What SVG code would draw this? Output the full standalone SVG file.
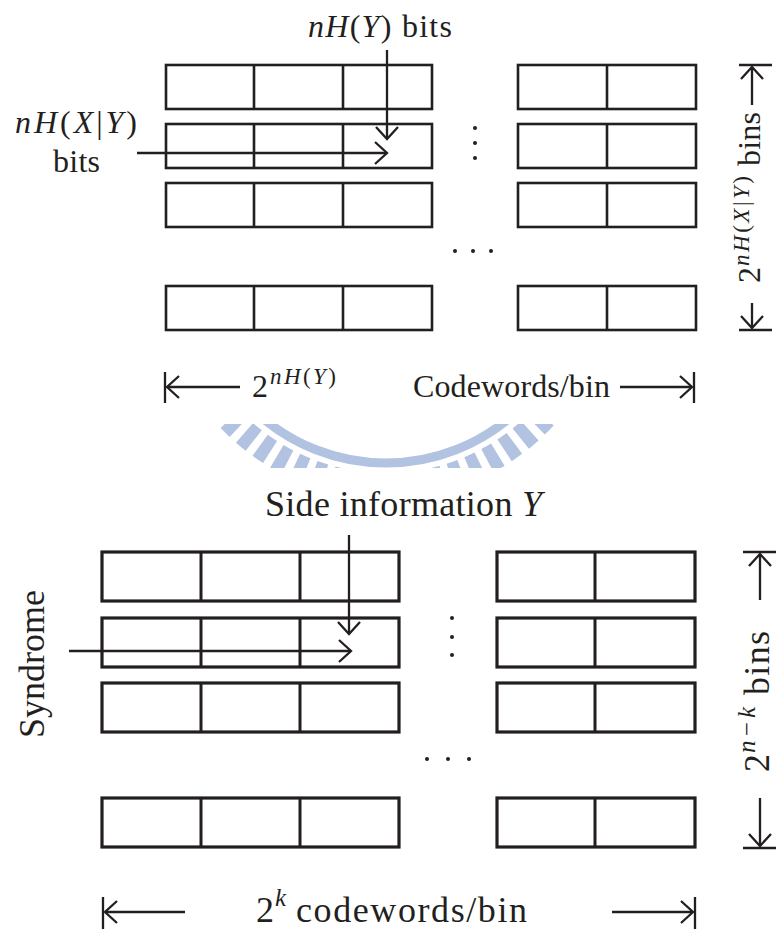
<svg xmlns="http://www.w3.org/2000/svg" width="776" height="929" viewBox="0 0 776 929">
  <style>
    text { font-family: "Liberation Serif", "Times New Roman", serif; fill: #231f20; }
    .t { font-size: 32px; }
    .b { font-size: 36px; }
    .st { font-size: 23px; }
    .sb { font-size: 25px; }
    .it { font-style: italic; }
    .box { fill: #ffffff; stroke: #231f20; stroke-width: 2.6; }
    .boxb { fill: #ffffff; stroke: #231f20; stroke-width: 3.2; }
    .div { stroke: #231f20; stroke-width: 2.6; fill: none; }
    .divb { stroke: #231f20; stroke-width: 3; fill: none; }
    .ln { stroke: #231f20; stroke-width: 2.3; fill: none; }
    .dot { fill: #231f20; }
    .wm { fill: none; stroke: #b2c2e1; }
  </style>
  <defs>
    <marker id="head" markerUnits="userSpaceOnUse" markerWidth="30" markerHeight="30" refX="0" refY="0" viewBox="-15 -15 30 30" orient="auto">
      <path d="M -12 -11 L 0 0 L -12 11" fill="none" stroke="#231f20" stroke-width="2.3"/>
    </marker>
    <clipPath id="wmclip">
      <rect x="200" y="424" width="380" height="44"/>
    </clipPath>
  </defs>

  <rect width="776" height="929" fill="#ffffff"/>

  <!-- faint seal printed behind the page -->
  <g id="seal" clip-path="url(#wmclip)">
    <circle class="wm" cx="386" cy="271" r="192" stroke-width="9"/>
    <circle class="wm" cx="386" cy="271" r="215" stroke-width="26" stroke-dasharray="12 8"/>
  </g>

  <!-- ===== Upper figure: binning with nH(Y) / nH(X|Y) ===== -->
  <g id="top-bins-left">
    <rect class="box" x="166" y="65" width="266" height="44"/>
    <rect class="box" x="166" y="124" width="266" height="44"/>
    <rect class="box" x="166" y="183" width="266" height="44"/>
    <rect class="box" x="166" y="286" width="266" height="44"/>
    <path class="div" d="M254 65V109M343 65V109M254 124V168M343 124V168M254 183V227M343 183V227M254 286V330M343 286V330"/>
  </g>
  <g id="top-bins-right">
    <rect class="box" x="518" y="65" width="178" height="44"/>
    <rect class="box" x="518" y="124" width="178" height="44"/>
    <rect class="box" x="518" y="183" width="178" height="44"/>
    <rect class="box" x="518" y="286" width="178" height="44"/>
    <path class="div" d="M607 65V109M607 124V168M607 183V227M607 286V330"/>
  </g>
  <g id="top-ellipsis">
    <circle class="dot" cx="475" cy="128" r="2"/>
    <circle class="dot" cx="475" cy="143" r="2"/>
    <circle class="dot" cx="475" cy="158" r="2"/>
    <circle class="dot" cx="455" cy="251" r="2"/>
    <circle class="dot" cx="473" cy="251" r="2"/>
    <circle class="dot" cx="491" cy="251" r="2"/>
  </g>
  <g id="top-label-y">
    <text class="t" x="308" y="37" textLength="144"><tspan class="it">nH</tspan>(<tspan class="it">Y</tspan>) bits</text>
  </g>
  <g id="top-label-xy">
    <text class="t" x="15" y="133" textLength="122"><tspan class="it">nH</tspan>(<tspan class="it">X</tspan>|<tspan class="it">Y</tspan>)</text>
    <text class="t" x="53" y="172" textLength="47">bits</text>
  </g>
  <g id="top-label-bins" transform="translate(760 283) rotate(-90)">
    <text class="t" x="0" y="0">2</text>
    <text class="st" x="17" y="-11" textLength="90"><tspan class="it">nH</tspan>(<tspan class="it">X</tspan>|<tspan class="it">Y</tspan>)</text>
    <text class="t" x="117" y="0" textLength="54">bins</text>
  </g>
  <g id="top-label-width">
    <text class="t" x="252" y="397">2</text>
    <text class="st" x="270" y="384" textLength="66"><tspan class="it">nH</tspan>(<tspan class="it">Y</tspan>)</text>
    <text class="t" x="413" y="397" textLength="197">Codewords/bin</text>
  </g>

  <!-- ===== Lower figure: syndrome coding ===== -->
  <g id="bottom-bins-left">
    <rect class="boxb" x="102" y="552" width="297" height="49"/>
    <rect class="boxb" x="102" y="618" width="297" height="49"/>
    <rect class="boxb" x="102" y="683" width="297" height="49"/>
    <rect class="boxb" x="102" y="798" width="297" height="49"/>
    <path class="divb" d="M201 552V601M201 618V667M201 683V732M201 798V847"/>
    <path class="divb" stroke-width="3.6" d="M300 552V601M300 618V667M300 683V732M300 798V847"/>
  </g>
  <g id="bottom-bins-right">
    <rect class="boxb" x="497" y="552" width="198" height="49"/>
    <rect class="boxb" x="497" y="618" width="198" height="49"/>
    <rect class="boxb" x="497" y="683" width="198" height="49"/>
    <rect class="boxb" x="497" y="798" width="198" height="49"/>
    <path class="divb" d="M595 552V601M595 618V667M595 683V732M595 798V847"/>
  </g>
  <g id="bottom-ellipsis">
    <circle class="dot" cx="452" cy="618" r="2"/>
    <circle class="dot" cx="452" cy="637" r="2"/>
    <circle class="dot" cx="452" cy="655" r="2"/>
    <circle class="dot" cx="427" cy="759" r="2"/>
    <circle class="dot" cx="448" cy="759" r="2"/>
    <circle class="dot" cx="469" cy="759" r="2"/>
  </g>
  <g id="bottom-label-side">
    <text class="b" x="265" y="516" textLength="277">Side information <tspan class="it">Y</tspan></text>
  </g>
  <g id="bottom-label-syndrome">
    <text class="b" transform="translate(44 738) rotate(-90)" x="0" y="0" textLength="148">Syndrome</text>
  </g>
  <g id="bottom-label-bins" transform="translate(769 772) rotate(-90)">
    <text class="b" x="0" y="0">2</text>
    <text class="sb" x="19" y="-14" textLength="46"><tspan class="it">n</tspan>−<tspan class="it">k</tspan></text>
    <text class="b" x="77" y="0" textLength="64">bins</text>
  </g>
  <g id="bottom-label-width">
    <text class="b" x="256" y="922">2</text>
    <text class="sb it" x="275" y="906">k</text>
    <text class="b" x="296" y="922" textLength="231">codewords/bin</text>
  </g>

  <!-- connectors and dimension lines -->
  <g id="connectors">
    <line class="ln" x1="387" y1="50" x2="387" y2="139" marker-end="url(#head)"/>
    <line class="ln" x1="137" y1="153" x2="387" y2="153" marker-end="url(#head)"/>
    <line class="ln" x1="349" y1="535" x2="349" y2="634" marker-end="url(#head)"/>
    <line class="ln" x1="69" y1="651" x2="351" y2="651" marker-end="url(#head)"/>

    <!-- upper: vertical extent -->
    <path class="ln" d="M739 65H772M739 330H772"/>
    <line class="ln" x1="752" y1="105" x2="752" y2="67" marker-end="url(#head)"/>
    <line class="ln" x1="752" y1="303" x2="752" y2="328" marker-end="url(#head)"/>
    <!-- upper: horizontal extent -->
    <path class="ln" d="M165 372V403M694 372V403"/>
    <line class="ln" x1="240" y1="387" x2="167" y2="387" marker-end="url(#head)"/>
    <line class="ln" x1="620" y1="387" x2="692" y2="387" marker-end="url(#head)"/>

    <!-- lower: vertical extent -->
    <path class="ln" d="M743 552H776M743 848H776"/>
    <line class="ln" x1="760" y1="600" x2="760" y2="554" marker-end="url(#head)"/>
    <line class="ln" x1="760" y1="798" x2="760" y2="846" marker-end="url(#head)"/>
    <!-- lower: horizontal extent -->
    <path class="ln" d="M103 897V929M695 897V929"/>
    <line class="ln" x1="185" y1="912" x2="105" y2="912" marker-end="url(#head)"/>
    <line class="ln" x1="612" y1="912" x2="693" y2="912" marker-end="url(#head)"/>
  </g>
</svg>
